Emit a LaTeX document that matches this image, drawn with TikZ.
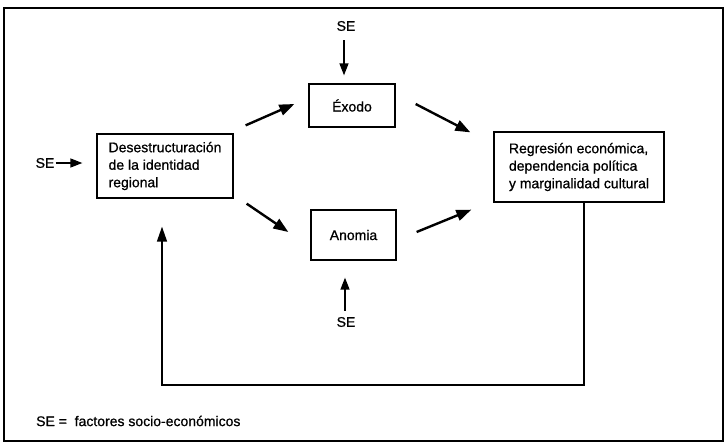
\documentclass[tikz,border=0pt]{standalone}
\usepackage{fontspec}
\setmainfont{Liberation Sans}
\newfontfamily\escaneo[FakeBold = 0.8]{Liberation Sans}
\usetikzlibrary{arrows.meta}

\begin{document}
\begin{tikzpicture}[x = 1pt, y = -1pt, font = \escaneo\fontsize{14}{17.5}\selectfont,
        caja/.style = {draw, line width = 1.3pt, inner sep = 0pt, align = left},
        flecha/.style = {line width = 2.4pt, -{Triangle[length = 15pt, width = 11pt]}},
        fse/.style = {line width = 1.4pt, -{Triangle[length = 12pt, width = 9pt]}},
        etq/.style = {inner sep = 0pt}]
        \useasboundingbox (0,0) rectangle (724,442);
        \draw[line width = 1.6pt] (4,8) rectangle (723,441);
        \node[caja, minimum width = 136pt, minimum height = 64pt] (des) at (165,166) {Desestructuración\\de la identidad\\regional};
        \node[caja, minimum width = 86pt, minimum height = 43pt] (exo) at (352,105.5) {Éxodo};
        \node[caja, minimum width = 85pt, minimum height = 50pt] (ano) at (353.5,235) {Anomia};
        \node[caja, minimum width = 170pt, minimum height = 70pt] (reg) at (579,167) {Regresión económica,\\dependencia política\\y marginalidad cultural};
        \node[etq] (setop) at (346,26) {SE};
        \node[etq] (sebot) at (346,322) {SE};
        \node[etq] (seizq) at (45,163) {SE};
        \node[etq, anchor = west] (leyenda) at (36,421) {SE =\ \ factores socio-económicos};
        \draw[flecha] ([shift = {(12,-8)}]des.north east) -- ([shift = {(-14,-1.5)}]exo.west);
        \draw[flecha] ([shift = {(13,5)}]des.south east) -- ([shift = {(-22,-3)}]ano.west);
        \draw[flecha] ([shift = {(20,-1.5)}]exo.east) -- ([shift = {(-23,1)}]reg.north west);
        \draw[flecha] ([shift = {(20,-3)}]ano.east) -- ([shift = {(-22,7)}]reg.south west);
        \draw[fse, shorten <= 9pt, shorten >= 8pt] ([xshift = -2pt]setop.south) -- ([xshift = -2pt]setop.south |- exo.north);
        \draw[fse, shorten <= 6pt, shorten >= 17pt] ([xshift = -1pt]sebot.north) -- ([xshift = -1pt]sebot.north |- ano.south);
        \draw[fse, shorten <= 1pt, shorten >= 14pt] (seizq.east) -- (seizq.east -| des.west);
        \coordinate (vuelta) at (162,385);
        \draw[fse, line width = 1.5pt, -{Triangle[length = 15pt, width = 10pt]}] ([xshift = 5pt]reg.south) |- (vuelta) -- ([xshift = -3pt, yshift = -28pt]des.south);
    \end{tikzpicture}
\end{document}
